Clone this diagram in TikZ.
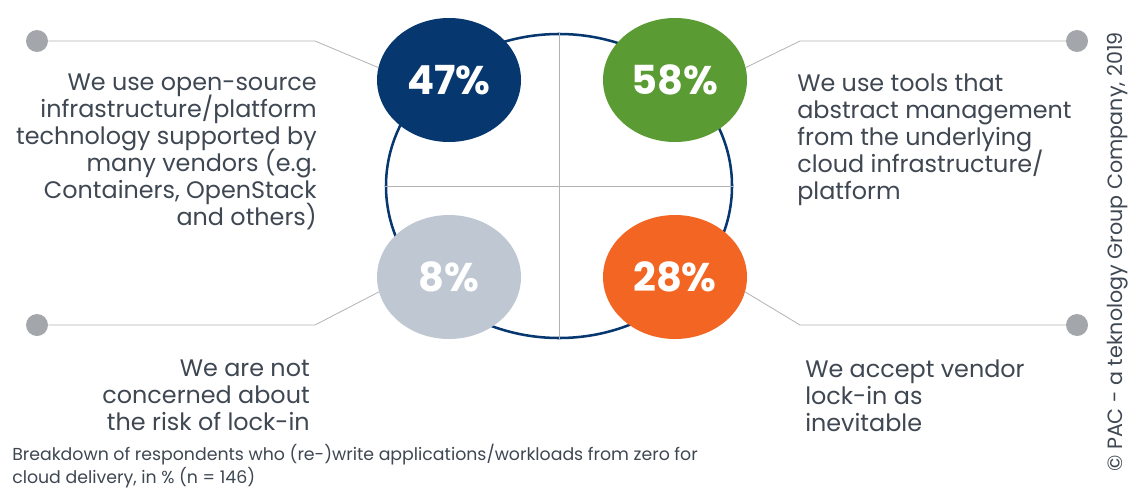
\documentclass[tikz,border=0pt]{standalone}
\usepackage{fontspec}
\setmainfont{Poppins}
\usetikzlibrary{shapes,positioning}
\definecolor{PacNavy}{HTML}{06376F}
\definecolor{PacGreen}{HTML}{5A9B33}
\definecolor{PacGrey}{HTML}{BFC8D2}
\definecolor{PacOrange}{HTML}{F26522}
\definecolor{PacDot}{HTML}{A3A6AB}
\definecolor{PacText}{HTML}{3E4752}
\def\tightlines{\lineskiplimit=-20pt\relax}
\tikzset{
	pct/.style={
		ellipse,minimum width=108pt,minimum height=93pt,inner sep=0pt,
		text=white,font=\fontsize{30}{30}\selectfont\bfseries},
	pin/.style={circle,fill=PacDot,minimum size=16.5pt,inner sep=0pt},
	lead/.style={draw=black!30,line width=0.6pt},
	quote/.style={text=PacText,font=\fontsize{17.9}{20.25}\selectfont\tightlines,inner sep=0pt}
}
\def\pcttxt#1{#1\%}

\begin{document}
\begin{tikzpicture}[x=0.75pt,y=-0.75pt]
	\useasboundingbox (0,0) rectangle (1130,489);
	% ring with cross
	\node[ellipse,draw=PacNavy,line width=1.9pt,minimum width=259.5pt,minimum height=228pt,inner sep=0pt] (ring) at (559,186) {};
	\draw[lead] (ring.west) -- (ring.east);
	\draw[lead] (ring.north) -- (ring.south);
	% percentages
	\node[pct,fill=PacNavy] (p47) at (449,80) {\pcttxt{47}};
	\node[pct,fill=PacGreen] (p58) at (675,80) {\pcttxt{58}};
	\node[pct,fill=PacGrey] (p8) at (449,277) {\pcttxt{8}};
	\node[pct,fill=PacOrange] (p28) at (675,277) {\pcttxt{28}};
	% pins and leads
	\node[pin] (pinA) at (37,41) {};
	\node[pin] (pinB) at (1077,41) {};
	\node[pin] (pinC) at (37,325) {};
	\node[pin] (pinD) at (1077,325) {};
	\coordinate (kA) at (315,41);
	\coordinate (kB) at (800,41);
	\coordinate (kC) at (315,325);
	\coordinate (kD) at (800,325);
	\draw[lead] (pinA) -- (kA) -- (p47.170);
	\draw[lead] (pinB) -- (kB) -- (p58.10);
	\draw[lead] (pinC) -- (kC) -- (p8.192);
	\draw[lead] (pinD) -- (kD) -- (p28.348);
	% statements
	\node[quote,anchor=north east,align=right] (tA) at (317,74) {We use open-source\\infrastructure/platform\\technology supported by\\many vendors (e.g.\\Containers, OpenStack\\and others)};
	\node[quote,anchor=north west,align=left] (tB) at (797,74) {We use tools that\\abstract management\\from the underlying\\cloud infrastructure/\\platform};
	\node[quote,anchor=north east,align=right] (tC) at (310,360) {We are not\\concerned about\\the risk of lock-in};
	\node[quote,anchor=north west,align=left] (tD) at (805,360) {We accept vendor\\lock-in as\\inevitable};
	% footnote and copyright
	\node[text=PacText,font=\fontsize{13}{17.25}\selectfont\tightlines,anchor=north west,align=left,inner sep=0pt] (note) at (12,444) {Breakdown of respondents who (re-)write applications/workloads from zero for\\cloud delivery, in \% (n = 146)};
	\node[text=PacText,font=\fontsize{15.5}{17}\selectfont,rotate=90,inner sep=0pt] (copy) at (1118,252) {© PAC - a teknology Group Company, 2019};
\end{tikzpicture}
\end{document}
